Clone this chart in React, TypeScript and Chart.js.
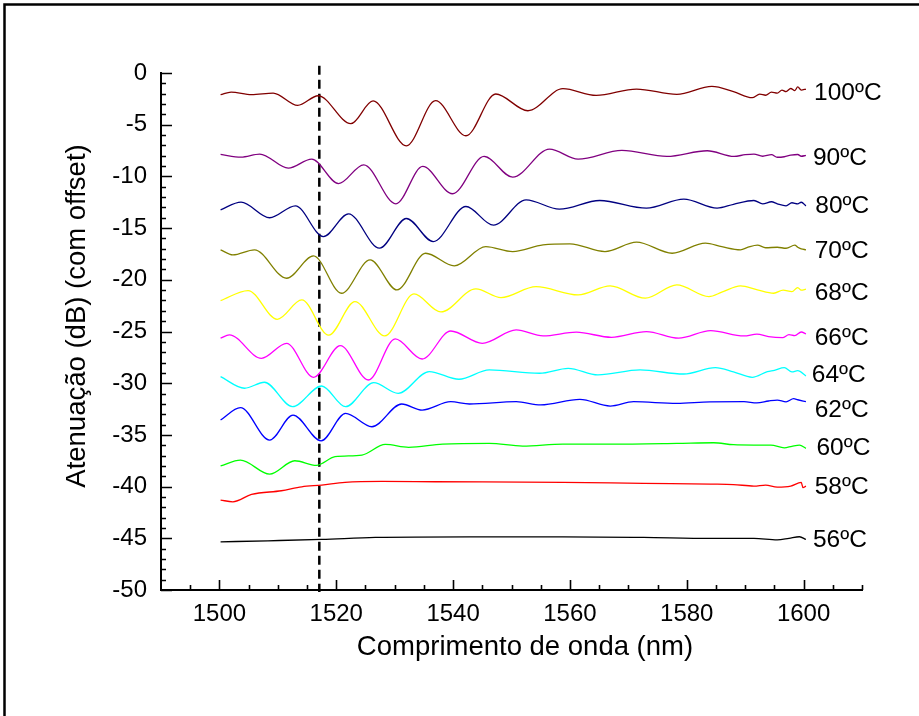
import React, { useEffect, useRef } from "react";
import { Chart, registerables } from "chart.js";

Chart.register(...registerables);

const seriesNames = ["100ºC", "90ºC", "80ºC", "70ºC", "68ºC", "66ºC", "64ºC", "62ºC", "60ºC", "58ºC", "56ºC"];
const seriesColors = ["#800000", "#800080", "#000080", "#808000", "#FFFF00", "#FF00FF", "#00FFFF", "#0000FF", "#00FF00", "#FF0000", "#000000"];

const wl100 = [1500.2, 1502, 1505.5, 1509.2, 1513.4, 1516.9, 1522.5, 1526.3, 1532.0, 1537.0, 1542.2, 1547.3, 1552.8, 1558.8, 1564.5, 1571.4, 1578.3, 1584.3, 1588, 1591.2, 1592.5, 1593.5, 1594.5, 1595.5, 1596.3, 1597, 1597.8, 1598.5, 1599, 1599.6, 1600.4];
const att100 = [-2.1, -1.85, -2.1, -1.94, -3.13, -2.2, -4.9, -2.7, -7.04, -2.68, -6.07, -2.03, -3.65, -1.52, -2.17, -1.55, -2.07, -1.3, -1.8, -2.39, -2.05, -2.15, -1.85, -1.95, -1.65, -1.8, -1.5, -1.7, -1.35, -1.65, -1.55];

const wl90 = [1500.2, 1503.7, 1506.9, 1511.8, 1515.8, 1520.4, 1524.7, 1530.2, 1534.8, 1539.9, 1545.3, 1550.2, 1556.5, 1561.4, 1568.9, 1576.6, 1583.5, 1588.1, 1590, 1591.5, 1593, 1594.5, 1595.5, 1596.7, 1597.8, 1599, 1599.6, 1600.4];
const att90 = [-7.88, -8.13, -7.84, -9.2, -8.33, -10.69, -8.88, -12.65, -9.04, -11.68, -8.07, -10.07, -7.36, -8.33, -7.49, -8.07, -7.52, -8.07, -7.9, -7.84, -8.05, -7.9, -8.15, -8.1, -7.95, -7.88, -8.05, -7.97];

const wl80 = [1500.2, 1503.7, 1508.6, 1513.0, 1517.8, 1522.1, 1527.4, 1532.0, 1536.6, 1542.2, 1546.9, 1552.5, 1558.2, 1565.1, 1573.1, 1579.5, 1585.2, 1588, 1591.5, 1593, 1594.5, 1595.5, 1597, 1598, 1599, 1599.6, 1600.4];
const att80 = [-13.23, -12.49, -14.0, -12.85, -15.82, -13.62, -16.94, -14.07, -16.3, -12.91, -14.72, -12.27, -13.17, -12.33, -13.07, -12.2, -13.07, -12.7, -12.33, -12.65, -12.45, -12.65, -12.85, -12.55, -12.65, -12.5, -12.85];

const wl70 = [1500.2, 1502.3, 1506.0, 1511.5, 1516.1, 1520.9, 1525.8, 1530.4, 1535.3, 1540.2, 1545.6, 1550.2, 1555.4, 1560, 1566, 1571.4, 1577.5, 1583.2, 1586, 1589.2, 1590.5, 1592.1, 1593.5, 1595.5, 1597, 1598.5, 1599, 1599.6, 1600.4];
const att70 = [-17.1, -17.59, -17.1, -19.85, -17.69, -21.3, -18.07, -20.98, -17.43, -18.65, -16.79, -17.27, -16.62, -16.52, -17.27, -16.36, -17.43, -16.46, -16.8, -17.1, -16.85, -16.65, -16.9, -16.85, -16.95, -16.65, -16.85, -17.0, -17.1];

const wl68 = [1500.2, 1504.9, 1509.9, 1514.1, 1518.7, 1523.2, 1528.3, 1533.3, 1537.9, 1543.9, 1548.2, 1554.2, 1561.4, 1566.9, 1572.9, 1578.3, 1583.8, 1586, 1589.2, 1592.1, 1594.9, 1596.5, 1598, 1599, 1599.6, 1600.4];
const att68 = [-22.01, -21.04, -23.82, -21.95, -25.36, -22.11, -25.43, -21.37, -23.11, -20.88, -21.72, -20.66, -21.46, -20.59, -21.78, -20.49, -21.62, -21.2, -20.59, -20.98, -21.3, -21.0, -21.15, -20.75, -21.0, -20.91];

const wl66 = [1500.2, 1501.7, 1507.2, 1511.5, 1516.1, 1520.7, 1525.5, 1530.1, 1534.7, 1539.6, 1545.0, 1550.8, 1555.4, 1561.1, 1567.1, 1573.1, 1578.6, 1584.1, 1589.8, 1592, 1594, 1596.4, 1597.5, 1598.5, 1599.6, 1600.4];
const att66 = [-25.65, -25.33, -27.59, -26.14, -29.43, -26.37, -29.69, -25.72, -27.66, -24.95, -26.14, -24.85, -25.43, -25.07, -25.56, -25.01, -25.65, -24.92, -25.43, -25.25, -25.5, -25.6, -25.3, -25.4, -25.05, -25.23];

const wl64 = [1500.2, 1504.3, 1507.7, 1512.5, 1517.5, 1521.6, 1526.4, 1530.6, 1535.9, 1541, 1546.2, 1554.8, 1559.7, 1564.8, 1572.0, 1579.5, 1584.9, 1588, 1591.2, 1593.8, 1595, 1596.7, 1598, 1599, 1600.4];
const att64 = [-29.37, -30.49, -29.91, -32.27, -30.27, -32.27, -29.95, -30.98, -28.88, -29.62, -28.72, -29.04, -28.56, -29.2, -28.72, -29.11, -28.5, -28.9, -29.43, -28.88, -28.75, -28.5, -28.9, -28.79, -29.3];

const wl62 = [1500.2, 1503.6, 1508.6, 1512.6, 1517.4, 1521.6, 1526.1, 1531.2, 1534.7, 1539.6, 1542.8, 1550.8, 1555.0, 1561.7, 1566.9, 1570.9, 1578.3, 1584, 1589.8, 1592, 1594, 1595.5, 1597, 1598.3, 1599, 1600.4];
const att62 = [-33.56, -32.37, -35.5, -33.08, -35.57, -32.92, -34.21, -32.01, -32.6, -31.79, -32.01, -31.79, -32.1, -31.56, -32.21, -31.79, -31.95, -31.8, -31.79, -31.9, -31.72, -31.63, -31.8, -31.5, -31.6, -31.79];

const wl60 = [1500.2, 1503.6, 1508.6, 1512.9, 1516.6, 1519.8, 1524.4, 1528.4, 1532.4, 1538.2, 1546.2, 1551.9, 1558.8, 1566.9, 1578.3, 1584.6, 1588, 1591.5, 1594.4, 1596.7, 1598, 1599.3, 1600.4];
const att60 = [-38.0, -37.44, -38.79, -37.5, -37.95, -37.11, -36.95, -35.92, -36.2, -35.89, -35.82, -36.08, -35.89, -35.89, -35.82, -35.76, -35.95, -35.98, -35.98, -36.25, -36.1, -35.98, -36.3];

const wl58 = [1500.2, 1502.3, 1505.5, 1510.6, 1514.1, 1517.5, 1521.5, 1527.8, 1537.0, 1558.8, 1572.6, 1584.1, 1588, 1591.5, 1593.5, 1595.5, 1597.8, 1599.6, 1599.9, 1600.4];
const att58 = [-41.3, -41.47, -40.76, -40.4, -40.02, -39.85, -39.59, -39.5, -39.53, -39.59, -39.69, -39.76, -39.8, -39.95, -39.85, -40.05, -39.95, -39.6, -40.1, -39.95];

const wl56 = [1500.2, 1508.3, 1517.5, 1526.7, 1542.8, 1558.8, 1572.6, 1584.1, 1591.5, 1595.5, 1597.5, 1599.3, 1600.4];
const att56 = [-45.34, -45.24, -45.11, -44.92, -44.86, -44.86, -44.92, -45.01, -45.01, -45.15, -45.0, -44.85, -45.11];

const seriesWl = [wl100, wl90, wl80, wl70, wl68, wl66, wl64, wl62, wl60, wl58, wl56];
const seriesAtt = [att100, att90, att80, att70, att68, att66, att64, att62, att60, att58, att56];

// label anchor positions (data units)
const labelWl = [1601.8, 1601.6, 1602.0, 1601.9, 1601.9, 1601.9, 1601.4, 1601.9, 1602.2, 1601.9, 1601.6];
const labelAtt = [-1.94, -8.23, -12.91, -17.27, -21.3, -25.65, -29.2, -32.6, -36.3, -40.08, -45.18];

// dashed marker line
const markerWl = [1517.1, 1517.1];
const markerAtt = [0.7, -50.2];

const xTickLabels = [1500, 1520, 1540, 1560, 1580, 1600];
const yTickLabels = [0, -5, -10, -15, -20, -25, -30, -35, -40, -45, -50];
const xMin = 1490, xMax = 1610, yMin = -50, yMax = 0;

const FONT = "'Liberation Sans', Arial, sans-serif";

const decorPlugin = {
  id: "decor",
  afterDraw(chart: any) {
    const ctx = chart.ctx;
    const xs = chart.scales.x, ys = chart.scales.y;
    const { left, bottom } = chart.chartArea;
    ctx.save();
    // frame
    ctx.strokeStyle = "#000";
    ctx.lineWidth = 2.5;
    ctx.beginPath();
    ctx.moveTo(4.5, 716);
    ctx.lineTo(4.5, 4.5);
    ctx.lineTo(919, 4.5);
    ctx.stroke();
    // inward ticks
    ctx.lineWidth = 1.6;
    ctx.beginPath();
    for (let v = xMin + 5; v <= xMax; v += 5) {
      const px = Math.round(xs.getPixelForValue(v)) + 0.5;
      const len = v % 20 === 0 ? 10 : 5;
      ctx.moveTo(px, bottom);
      ctx.lineTo(px, bottom - len);
    }
    for (let v = yMin; v <= yMax; v += 1) {
      const py = Math.round(ys.getPixelForValue(v)) + 0.5;
      const len = v % 5 === 0 ? 11 : 5;
      ctx.moveTo(left, py);
      ctx.lineTo(left + len, py);
    }
    ctx.stroke();
    // series labels
    ctx.fillStyle = "#000";
    ctx.font = `24.5px ${FONT}`;
    ctx.textAlign = "left";
    ctx.textBaseline = "middle";
    seriesNames.forEach((n, i) => {
      ctx.fillText(n, xs.getPixelForValue(labelWl[i]), ys.getPixelForValue(labelAtt[i]));
    });
    // axis titles
    ctx.font = `27.5px ${FONT}`;
    ctx.textAlign = "center";
    ctx.textBaseline = "middle";
    ctx.fillText("Comprimento de onda (nm)", 525, 647);
    ctx.translate(77, 316);
    ctx.rotate(-Math.PI / 2);
    ctx.fillText("Atenuação (dB) (com offset)", 0, 0);
    ctx.restore();
  },
};

export default function App() {
  const ref = useRef<HTMLCanvasElement>(null);
  useEffect(() => {
    if (!ref.current) return;
    const datasets: any[] = seriesNames.map((n, i) => ({
      label: n,
      data: seriesWl[i].map((x, j) => ({ x, y: seriesAtt[i][j] })),
      borderColor: seriesColors[i],
      borderWidth: 1.3,
      pointRadius: 0,
      cubicInterpolationMode: "monotone",
      fill: false,
    }));
    datasets.push({
      label: "marker",
      data: markerWl.map((x, j) => ({ x, y: markerAtt[j] })),
      borderColor: "#000",
      borderWidth: 2.5,
      borderDash: [9, 5],
      pointRadius: 0,
      clip: false,
      fill: false,
    });
    const tickFont = { family: FONT, size: 24 };
    const chart = new Chart(ref.current, {
      type: "line",
      data: { datasets },
      plugins: [decorPlugin],
      options: {
        animation: false,
        responsive: false,
        layout: { padding: { left: 0, top: 73, right: 57, bottom: 0 } },
        plugins: { legend: { display: false }, tooltip: { enabled: false } },
        scales: {
          x: {
            type: "linear",
            min: xMin,
            max: xMax,
            afterBuildTicks: (s: any) => {
              s.ticks = xTickLabels.map((v) => ({ value: v }));
            },
            afterFit: (s: any) => {
              s.height = 126;
            },
            grid: { display: false, drawTicks: false },
            border: { display: true, color: "#000", width: 2 },
            ticks: { font: tickFont, color: "#000", padding: 10, maxRotation: 0, autoSkip: false, callback: (v: any) => String(v) },
          },
          y: {
            type: "linear",
            min: yMin,
            max: yMax,
            afterBuildTicks: (s: any) => {
              s.ticks = yTickLabels.map((v) => ({ value: v }));
            },
            afterFit: (s: any) => {
              s.width = 161;
            },
            grid: { display: false, drawTicks: false },
            border: { display: true, color: "#000", width: 2 },
            ticks: { font: tickFont, color: "#000", padding: 14, autoSkip: false, callback: (v: any) => String(v) },
          },
        },
      },
    });
    return () => chart.destroy();
  }, []);
  return (
    <div style={{ position: "fixed", left: 0, top: 0, width: 919, height: 716, background: "#fff" }}>
      <canvas ref={ref} width={919} height={716} style={{ width: 919, height: 716, display: "block" }} />
    </div>
  );
}
